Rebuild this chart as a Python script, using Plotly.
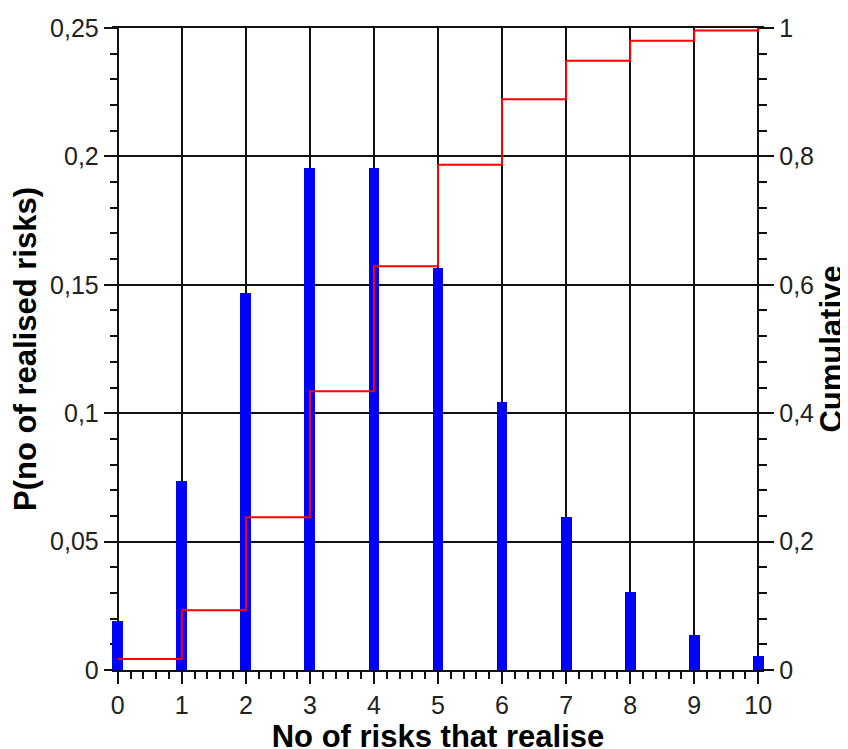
import plotly.graph_objects as go

# Data
risks = [0, 1, 2, 3, 4, 5, 6, 7, 8, 9, 10]
prob = [0.019, 0.0735, 0.1468, 0.1955, 0.1955, 0.1565, 0.1044, 0.0596, 0.0304, 0.0136, 0.0055]
cumulative = [0.017, 0.093, 0.238, 0.434, 0.629, 0.787, 0.889, 0.949, 0.980, 0.996, 1.0]

FONT = "Liberation Sans, Arial, sans-serif"
TICKCOL = "#222222"
LINECOL = "#111111"

BAR_W = 0.17
PAD = 0.09                      # extra x range so the end bars are not clipped
XMIN, XMAX = risks[0], risks[-1]
span = (XMAX - XMIN) + 2 * PAD
pos_left = PAD / span

fig = go.Figure()
fig.add_trace(go.Bar(
    x=risks, y=prob, width=BAR_W,
    marker=dict(color="#0000FF", line=dict(width=0)),
    showlegend=False,
))
fig.add_trace(go.Scatter(
    x=risks, y=cumulative, yaxis="y2", mode="lines",
    line=dict(color="#FF0000", width=2, shape="hv"),
    showlegend=False,
))

fig.update_layout(
    width=848, height=749,
    margin=dict(l=104, r=92, t=20, b=87),
    paper_bgcolor="white", plot_bgcolor="white",
    separators=", ",
    font=dict(family=FONT, color=TICKCOL, size=25),
    bargap=0,
    xaxis=dict(
        range=[XMIN - PAD, XMAX + PAD], tick0=0, dtick=1, automargin=False,
        showgrid=True, gridcolor=LINECOL, gridwidth=1.5,
        showline=True, linecolor=LINECOL, linewidth=1.5, mirror=True,
        zeroline=False,
        ticks="outside", ticklen=12, tickwidth=1.5, tickcolor=LINECOL,
        minor=dict(tick0=0, dtick=0.2, ticks="outside", ticklen=7, tickwidth=1.5, tickcolor=LINECOL, showgrid=False),
        tickfont=dict(family=FONT, size=25, color=TICKCOL),
        title=dict(text="No of risks that realise", standoff=8,
                   font=dict(family=FONT, size=31, color="#000000", weight="bold")),
        layer="below traces",
    ),
    yaxis=dict(
        anchor="free", position=pos_left, automargin=False,
        range=[0, 0.25], tick0=0, dtick=0.05,
        showgrid=True, gridcolor=LINECOL, gridwidth=1.5,
        showline=False,
        zeroline=False,
        ticks="outside", ticklen=14, tickwidth=1.5, tickcolor=LINECOL,
        minor=dict(dtick=0.01, ticks="outside", ticklen=8, tickwidth=1.5, tickcolor=LINECOL, showgrid=False),
        tickfont=dict(family=FONT, size=25, color=TICKCOL),
        title=dict(text="P(no of realised risks)", standoff=14,
                   font=dict(family=FONT, size=31, color="#000000", weight="bold")),
        layer="below traces",
    ),
    yaxis2=dict(
        overlaying="y", side="right", anchor="free", position=1 - pos_left, automargin=False,
        range=[0, 1], tick0=0, dtick=0.2,
        showgrid=False, zeroline=False,
        showline=False,
        ticks="outside", ticklen=15, tickwidth=1.5, tickcolor=LINECOL,
        minor=dict(dtick=0.04, ticks="outside", ticklen=8, tickwidth=1.5, tickcolor=LINECOL, showgrid=False),
        tickfont=dict(family=FONT, size=25, color=TICKCOL),
        title=dict(text="Cumulative", standoff=7,
                   font=dict(family=FONT, size=31, color="#000000", weight="bold")),
    ),
)

fig.write_html("out.html")
